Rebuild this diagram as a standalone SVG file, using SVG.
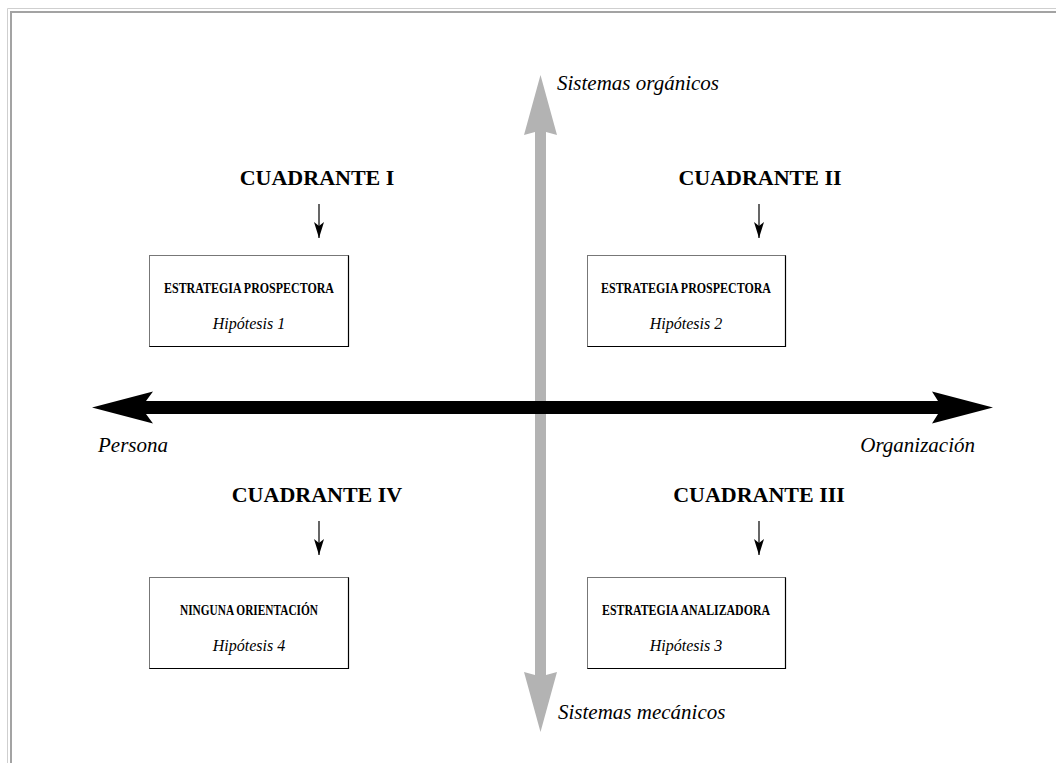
<svg xmlns="http://www.w3.org/2000/svg" width="1056" height="763" viewBox="0 0 1056 763">
<defs>
<style>
.h{font-family:"Liberation Serif","Times New Roman",serif;font-weight:bold;font-size:22px;fill:#000;text-anchor:middle}
.bt{font-family:"Liberation Serif","Times New Roman",serif;font-weight:bold;font-size:15px;fill:#000;text-anchor:middle}
.bi{font-family:"Liberation Serif","Times New Roman",serif;font-style:italic;font-size:16px;fill:#000;text-anchor:middle}
.lab{font-family:"Liberation Serif","Times New Roman",serif;font-style:italic;font-size:21px;fill:#000}
.box{fill:#fff;stroke:#777;stroke-width:1}
.br{fill:none;stroke:#000;stroke-width:1.2}
.sm{stroke:#000;stroke-width:1.2;fill:none;marker-end:url(#ah)}
</style>
<marker id="ah" markerWidth="16" markerHeight="10" refX="16" refY="5" orient="auto" markerUnits="userSpaceOnUse" viewBox="0 0 16 10">
<path d="M0,0 L16,5 L0,10 L4,5 Z" fill="#000"/>
</marker>
</defs>
<rect x="0" y="0" width="1056" height="763" fill="#fff"/>
<g id="frame">
<path d="M7.5,763 V8.5 H1056" fill="none" stroke="#cfcfcf" stroke-width="1"/>
<path d="M11,763 V12 H1056" fill="none" stroke="#a3a3a3" stroke-width="2"/>
</g>
<g id="connectors">
<polygon id="axis-v" fill="#b3b3b3" points="540.5,75 557,135 546,132 546,675 557,672 540.5,732 524,672 535,675 535,132 524,135"/>
<polygon id="axis-h" fill="#000" points="92,407.5 153,391.5 146,401 938,401 932,391.5 993,407.5 932,423.5 938,414 146,414 153,423.5"/>
<line class="sm" x1="319" y1="204" x2="319" y2="238"/>
<line class="sm" x1="759" y1="204" x2="759" y2="238"/>
<line class="sm" x1="319" y1="521" x2="319" y2="555"/>
<line class="sm" x1="759" y1="521" x2="759" y2="555"/>
</g>
<g id="labels">
<text class="lab" x="557" y="90">Sistemas orgánicos</text>
<text class="lab" x="558" y="719">Sistemas mecánicos</text>
<text class="lab" x="98" y="452">Persona</text>
<text class="lab" x="975" y="452" text-anchor="end">Organización</text>
</g>
<g id="q1">
<text class="h" x="317" y="185">CUADRANTE I</text>
<rect class="box" x="149.5" y="255.5" width="199" height="91"/>
<path class="br" d="M149.5,346.5 H348.5 V255.5"/>
<text class="bt" x="249" y="293" textLength="170" lengthAdjust="spacingAndGlyphs">ESTRATEGIA PROSPECTORA</text>
<text class="bi" x="249" y="329">Hipótesis 1</text>
</g>
<g id="q2">
<text class="h" x="760" y="185">CUADRANTE II</text>
<rect class="box" x="587.5" y="255.5" width="198" height="91"/>
<path class="br" d="M587.5,346.5 H785.5 V255.5"/>
<text class="bt" x="686" y="293" textLength="170" lengthAdjust="spacingAndGlyphs">ESTRATEGIA PROSPECTORA</text>
<text class="bi" x="686" y="329">Hipótesis 2</text>
</g>
<g id="q4">
<text class="h" x="317" y="502">CUADRANTE IV</text>
<rect class="box" x="149.5" y="577.5" width="199" height="91"/>
<path class="br" d="M149.5,668.5 H348.5 V577.5"/>
<text class="bt" x="249" y="615" textLength="138" lengthAdjust="spacingAndGlyphs">NINGUNA ORIENTACIÓN</text>
<text class="bi" x="249" y="651">Hipótesis 4</text>
</g>
<g id="q3">
<text class="h" x="759" y="502">CUADRANTE III</text>
<rect class="box" x="587.5" y="577.5" width="198" height="91"/>
<path class="br" d="M587.5,668.5 H785.5 V577.5"/>
<text class="bt" x="686" y="615" textLength="168" lengthAdjust="spacingAndGlyphs">ESTRATEGIA ANALIZADORA</text>
<text class="bi" x="686" y="651">Hipótesis 3</text>
</g>
</svg>
